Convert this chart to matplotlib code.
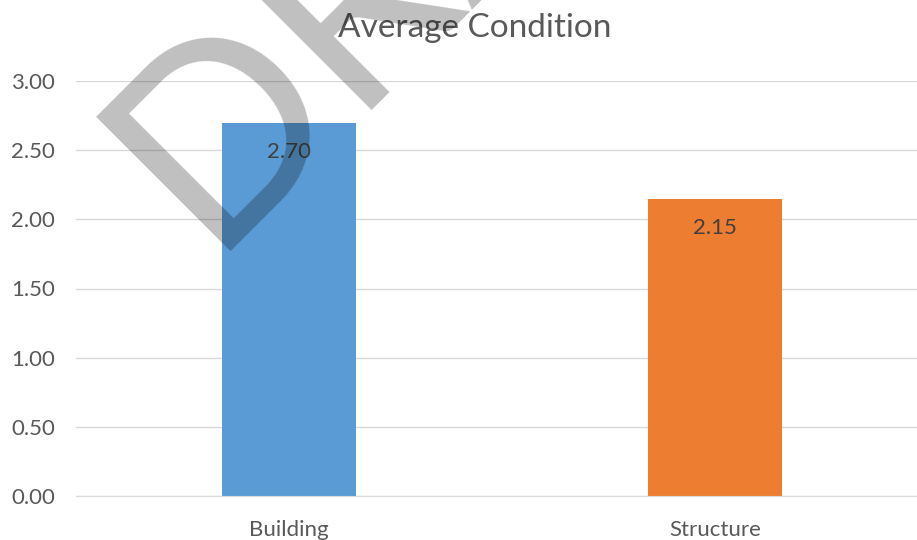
import matplotlib
matplotlib.use("Agg")
import matplotlib.pyplot as plt

categories = ["Building", "Structure"]
values = [2.70, 2.15]
bar_colors = ["#5b9bd5", "#ed7d31"]
yticks = [0.0, 0.5, 1.0, 1.5, 2.0, 2.5, 3.0]
title = "Average Condition"
watermark = "DRAFT"

plt.rcParams["font.family"] = ["Lato", "DejaVu Sans"]

W, H = 917, 540
fig = plt.figure(figsize=(W / 100, H / 100), dpi=100)

# plot area in pixel terms: left 76, right 928, top 81, bottom 496
left, right, top, bottom = 76, 928, 81, 496
ax = fig.add_axes([left / W, 1 - bottom / H, (right - left) / W, (bottom - top) / H])

x = list(range(len(categories)))
ax.bar(x, values, width=0.315, color=bar_colors, zorder=2)
ax.set_xlim(-0.5, len(categories) - 0.5)
ax.set_ylim(0, 3.0)
ax.set_yticks(yticks)
ax.set_yticklabels([f"{v:.2f}" for v in yticks])
ax.set_xticks(x)
ax.set_xticklabels(categories)

ax.grid(axis="y", color="#d9d9d9", linewidth=1, zorder=0)
ax.set_axisbelow(True)
for s in ["top", "right", "left"]:
    ax.spines[s].set_visible(False)
ax.spines["bottom"].set_color("#d9d9d9")
ax.tick_params(axis="both", length=0, colors="#595959", labelsize=16)
ax.tick_params(axis="y", pad=15)
ax.tick_params(axis="x", pad=17)

for xi, v in zip(x, values):
    ax.annotate(f"{v:.2f}", (xi, v), xytext=(0, -21), textcoords="offset points",
                ha="center", va="center", fontsize=16, color="#404040", zorder=3)

fig.text(475 / W, 1 - 28 / H, title, ha="center", va="center",
         fontsize=24, color="#595959")

fig.text(207 / W, 1 - 251 / H, watermark, rotation=45, rotation_mode="anchor",
         ha="left", va="baseline", fontsize=190,
         color="black", alpha=0.25, zorder=10)

fig.savefig("out.png", dpi=100)
